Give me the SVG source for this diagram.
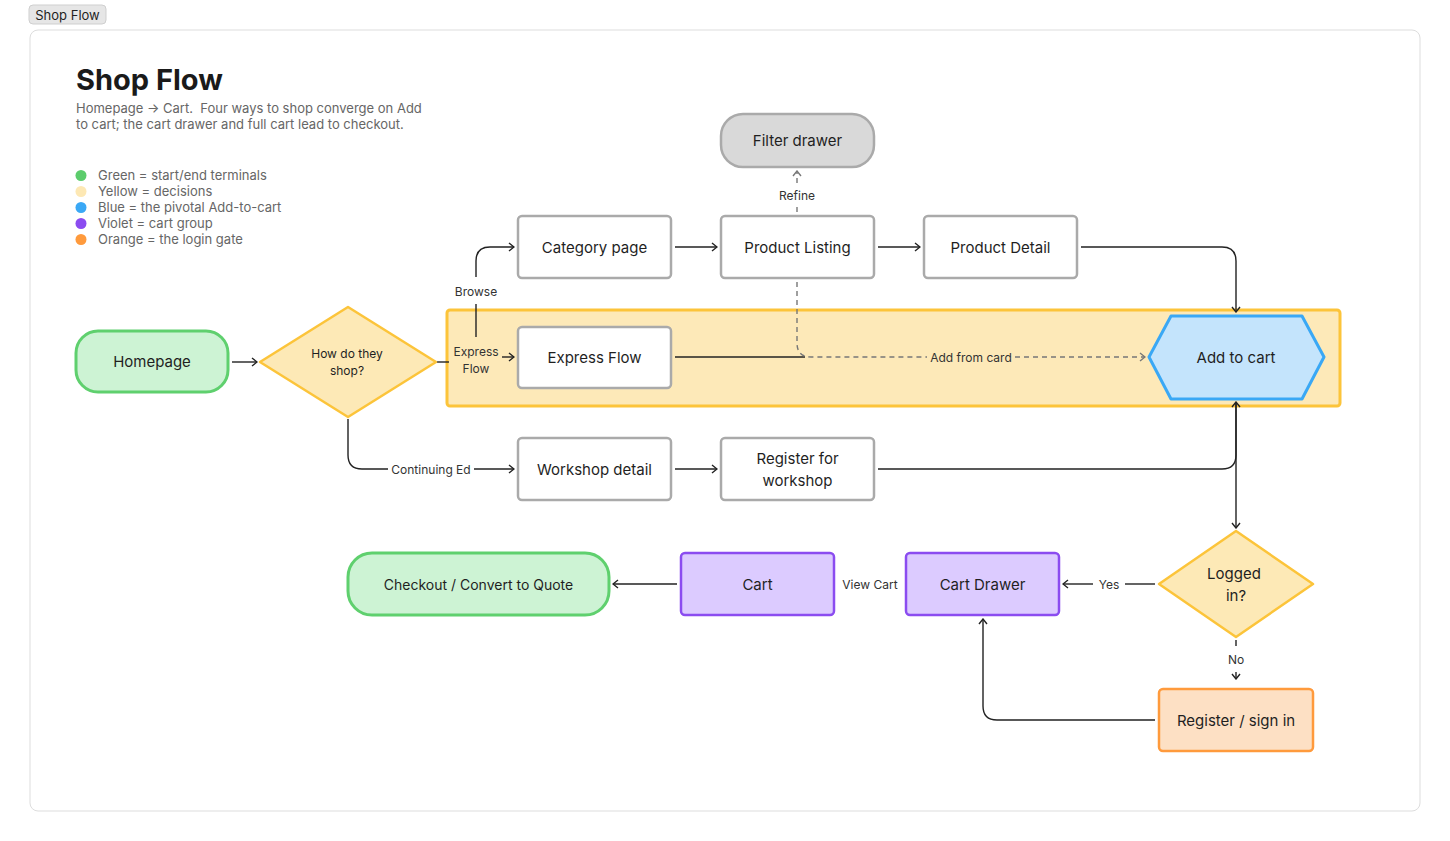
<svg xmlns="http://www.w3.org/2000/svg" width="1450" height="841" viewBox="0 0 1450 841">
<style>
text{font-family:Inter,"Noto Sans","Liberation Sans",sans-serif}
.nl{font-size:15px;fill:#1f1f1f;text-anchor:middle;dominant-baseline:central}
.dl{font-size:12px;fill:#1f1f1f;text-anchor:middle;dominant-baseline:central}
.el{font-size:12px;fill:#333;text-anchor:middle;dominant-baseline:central}
.lg{font-size:13px;fill:#666;white-space:pre}
.box{fill:#fff;stroke:#aaaaaa;stroke-width:2.5}
.e{fill:none;stroke:#222;stroke-width:1.4}
.d{fill:none;stroke:#777;stroke-width:1.4;stroke-dasharray:5 4}
</style>
<defs>
<marker id="a" viewBox="0 0 10 10" refX="9" refY="5" markerWidth="10" markerHeight="10" markerUnits="userSpaceOnUse" orient="auto"><path d="M4,1 L9,5 L4,9" fill="none" stroke="#222" stroke-width="1.4"/></marker>
<marker id="ag" viewBox="0 0 10 10" refX="9" refY="5" markerWidth="10" markerHeight="10" markerUnits="userSpaceOnUse" orient="auto"><path d="M4,1 L9,5 L4,9" fill="none" stroke="#777" stroke-width="1.4"/></marker>
</defs>
<rect width="1450" height="841" fill="#fff"/>
<rect x="29" y="5" width="77" height="19" rx="4" fill="#e6e6e6" stroke="#cfcfcf"/>
<text x="67.5" y="15" style="font-size:13px;fill:#1f1f1f;text-anchor:middle;dominant-baseline:central">Shop Flow</text>
<rect x="30" y="30" width="1390" height="781" rx="8" fill="#fff" stroke="#dddddd"/>
<text x="76" y="90" style="font-size:29px;font-weight:700;fill:#1a1a1a">Shop Flow</text>
<text x="76" y="113" class="lg" xml:space="preserve">Homepage → Cart.  Four ways to shop converge on Add</text>
<text x="76" y="129" class="lg">to cart; the cart drawer and full cart lead to checkout.</text>
<g id="legend">
<circle cx="81" cy="175.5" r="5.5" fill="#5ccc6c"/><text x="98" y="180" class="lg">Green = start/end terminals</text>
<circle cx="81" cy="191.5" r="5.5" fill="#fde8b4"/><text x="98" y="196" class="lg">Yellow = decisions</text>
<circle cx="81" cy="207.5" r="5.5" fill="#3aa8f5"/><text x="98" y="212" class="lg">Blue = the pivotal Add-to-cart</text>
<circle cx="81" cy="223.5" r="5.5" fill="#8b4cf0"/><text x="98" y="228" class="lg">Violet = cart group</text>
<circle cx="81" cy="239.5" r="5.5" fill="#ff9a3c"/><text x="98" y="244" class="lg">Orange = the login gate</text>
</g>
<g id="express-band"><rect x="447" y="310" width="893" height="96" rx="3" fill="#fde9b8" stroke="#fcc43a" stroke-width="3"/></g>
<g id="connectors">
<path class="e" d="M232,362 H257" marker-end="url(#a)"/>
<path class="e" d="M437,362 H449"/>
<path class="e" d="M502,357 H514" marker-end="url(#a)"/>
<path class="e" d="M476,337 V304"/>
<path class="e" d="M476,277 V261 Q476,247 490,247 H514" marker-end="url(#a)"/>
<path class="e" d="M348,419 V455 Q348,469 362,469 H388"/>
<path class="e" d="M474,469 H514" marker-end="url(#a)"/>
<path class="e" d="M675,247 H717" marker-end="url(#a)"/>
<path class="e" d="M878,247 H920" marker-end="url(#a)"/>
<path class="e" d="M675,469 H717" marker-end="url(#a)"/>
<path class="e" d="M1081,247 H1222 Q1236,247 1236,261 V312" marker-end="url(#a)"/>
<path class="d" d="M797,212 V205"/>
<path class="d" d="M797,183 V171" marker-end="url(#ag)"/>
<path class="e" d="M675,357 H805"/>
<path class="d" d="M797,282 V343 Q797,357 811,357 H927"/>
<path class="d" d="M1015,357 H1145" marker-end="url(#ag)"/>
<path class="e" d="M878,469 H1222 Q1236,469 1236,455 V402" marker-end="url(#a)"/>
<path class="e" d="M1236,403 V528" marker-end="url(#a)"/>
<path class="e" d="M1155,584 H1125"/>
<path class="e" d="M1093,584 H1063" marker-end="url(#a)"/>
<path class="e" d="M1236,640 V646"/>
<path class="e" d="M1236,672 V679" marker-end="url(#a)"/>
<path class="e" d="M1155,720 H997 Q983,720 983,706 V619" marker-end="url(#a)"/>
<path class="e" d="M677,584 H613" marker-end="url(#a)"/>
<text x="476" y="291" class="el">Browse</text>
<text x="476" y="351" class="el">Express</text>
<text x="476" y="368" class="el">Flow</text>
<text x="431" y="469" class="el">Continuing Ed</text>
<text x="797" y="195" class="el">Refine</text>
<text x="971" y="357" class="el">Add from card</text>
<text x="1109" y="584" class="el">Yes</text>
<text x="1236" y="659" class="el">No</text>
<text x="870" y="584" class="el">View Cart</text>
</g>
<g id="homepage"><rect x="76" y="331" width="152" height="61" rx="22" fill="#cdf3d4" stroke="#5fd06e" stroke-width="3"/><text x="152" y="361.5" class="nl">Homepage</text></g>
<g id="how-shop"><polygon points="348,307 436,362 348,417 260,362" fill="#fde9b6" stroke="#fcc43a" stroke-width="2.5" stroke-linejoin="round"/><text x="347" y="353" class="dl">How do they</text><text x="347" y="370" class="dl">shop?</text></g>
<g id="category"><rect x="518" y="216" width="153" height="62" rx="4" class="box"/><text x="594.5" y="247" class="nl">Category page</text></g>
<g id="listing"><rect x="721" y="216" width="153" height="62" rx="4" class="box"/><text x="797.5" y="247" class="nl">Product Listing</text></g>
<g id="detail"><rect x="924" y="216" width="153" height="62" rx="4" class="box"/><text x="1000.5" y="247" class="nl">Product Detail</text></g>
<g id="filter"><rect x="721" y="114" width="153" height="53" rx="22" fill="#d9d9d9" stroke="#aaaaaa" stroke-width="2.5"/><text x="797.5" y="140.5" class="nl">Filter drawer</text></g>
<g id="express"><rect x="518" y="327" width="153" height="61" rx="4" class="box"/><text x="594.5" y="357" class="nl">Express Flow</text></g>
<g id="addcart"><polygon points="1149,357 1171,316 1302,316 1324,357 1302,399 1171,399" fill="#c4e4fc" stroke="#3aa8f5" stroke-width="3" stroke-linejoin="round"/><text x="1236" y="357" class="nl">Add to cart</text></g>
<g id="workshop"><rect x="518" y="438" width="153" height="62" rx="4" class="box"/><text x="594.5" y="469" class="nl">Workshop detail</text></g>
<g id="register-ws"><rect x="721" y="438" width="153" height="62" rx="4" class="box"/><text x="797.5" y="458" class="nl">Register for</text><text x="797.5" y="480" class="nl">workshop</text></g>
<g id="logged"><polygon points="1236,531 1313,584 1236,637 1159,584" fill="#fde9b6" stroke="#fcc43a" stroke-width="2.5" stroke-linejoin="round"/><text x="1234" y="573" class="nl">Logged</text><text x="1236" y="595" class="nl">in?</text></g>
<g id="signin"><rect x="1159" y="689" width="154" height="62" rx="4" fill="#fde0c4" stroke="#ff9a3c" stroke-width="2.5"/><text x="1236" y="720" class="nl">Register / sign in</text></g>
<g id="drawer"><rect x="906" y="553" width="153" height="62" rx="4" fill="#dccbff" stroke="#8b4cf0" stroke-width="2.5"/><text x="982.5" y="584" class="nl">Cart Drawer</text></g>
<g id="cart"><rect x="681" y="553" width="153" height="62" rx="4" fill="#dccbff" stroke="#8b4cf0" stroke-width="2.5"/><text x="757.5" y="584" class="nl">Cart</text></g>
<g id="checkout"><rect x="348" y="553" width="261" height="62" rx="24" fill="#cdf3d4" stroke="#5fd06e" stroke-width="3"/><text x="478.5" y="584" class="nl" style="font-size:14px">Checkout / Convert to Quote</text></g>
</svg>
